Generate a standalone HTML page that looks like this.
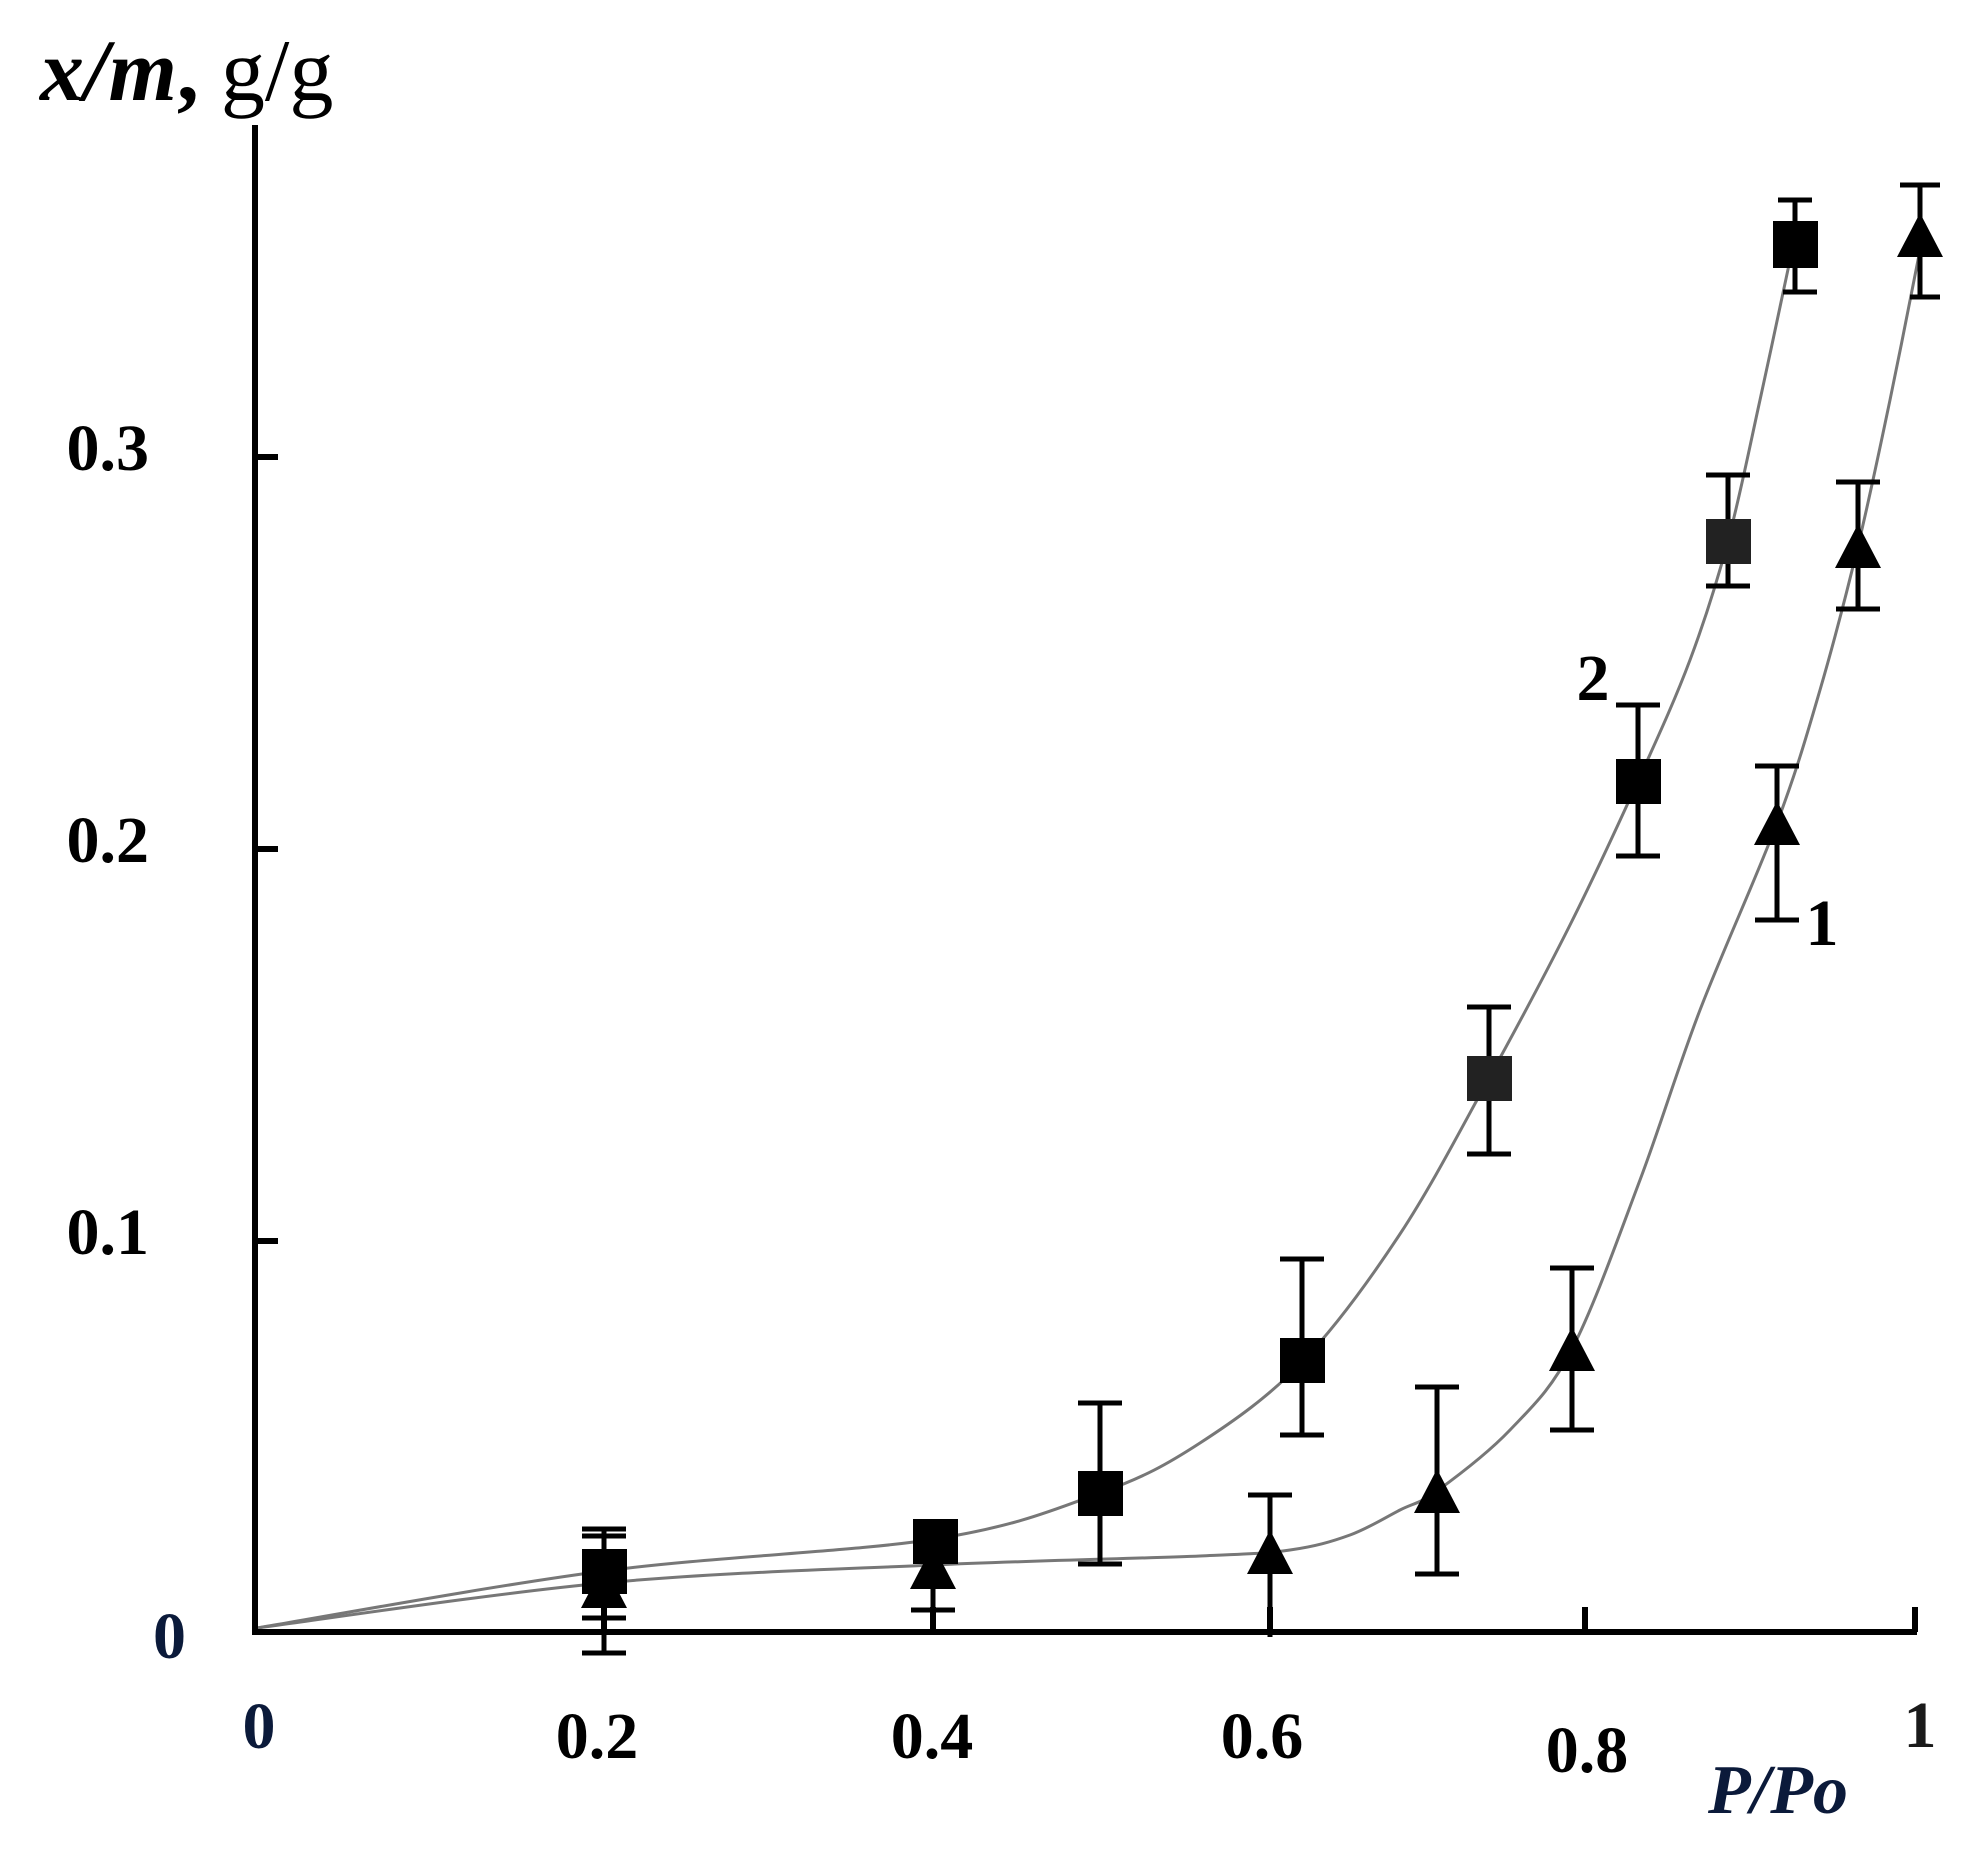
<!DOCTYPE html>
<html><head><meta charset="utf-8"><style>
html,body{margin:0;padding:0;background:#fff;}
svg{display:block;}
text{font-family:"Liberation Serif",serif;font-weight:bold;}
</style></head><body>
<svg width="1976" height="1853" viewBox="0 0 1976 1853" xmlns="http://www.w3.org/2000/svg">
<rect width="1976" height="1853" fill="#fff"/>
<!-- curves -->
<g fill="none" stroke="#777" stroke-width="3" stroke-linejoin="round">
<polyline class="cr" points="257,1628 604,1571 935,1539 1100,1493 1200,1443 1302,1362 1400,1234 1489,1078 1570,925 1638,781 1690,660 1728,541 1760,400 1790,260"/>
<polyline class="cr" points="257,1628 604,1583 933,1565 1200,1556 1290,1550 1350,1535 1400,1510 1437,1491 1510,1430 1572,1349 1640,1180 1700,1010 1777,823 1820,690 1858,546 1890,400 1920,250"/>
</g>
<!-- axes -->
<g stroke="#000" stroke-width="6" fill="none">
<line x1="255" y1="125" x2="255" y2="1635"/>
<line x1="252" y1="1632" x2="1917" y2="1632"/>
<line x1="255" y1="457" x2="278" y2="457"/>
<line x1="255" y1="849" x2="278" y2="849"/>
<line x1="255" y1="1241" x2="278" y2="1241"/>
<line x1="604" y1="1632" x2="604" y2="1607"/>
<line x1="933" y1="1632" x2="933" y2="1607"/>
<line x1="1270" y1="1632" x2="1270" y2="1607"/>
<line x1="1585" y1="1632" x2="1585" y2="1607"/>
<line x1="1915" y1="1632" x2="1915" y2="1607"/>
</g>
<!-- error bars -->
<g stroke="#000" stroke-width="5">
<path d="M604 1529V1618M582 1529H626M582 1618H626"/>
<path d="M935 1526V1555M913 1526H957"/>
<path d="M1100 1403V1564M1078 1403H1122M1078 1564H1122"/>
<path d="M1302 1259V1435M1280 1259H1324M1280 1435H1324"/>
<path d="M1489 1007V1154M1467 1007H1511M1467 1154H1511"/>
<path d="M1638 705V856M1616 705H1660M1616 856H1660"/>
<path d="M1728 475V586M1706 475H1750M1706 586H1750"/>
<path d="M1795 200V292M1778 200H1812M1783 292H1817"/>
<path d="M604 1536V1653M582 1536H626M582 1653H626"/>
<path d="M933 1560V1610M911 1610H955"/>
<path d="M1270 1495V1637M1248 1495H1292"/>
<path d="M1437 1387V1574M1415 1387H1459M1415 1574H1459"/>
<path d="M1572 1268V1430M1550 1268H1594M1550 1430H1594"/>
<path d="M1777 766V920M1755 766H1799M1755 920H1799"/>
<path d="M1858 482V609M1836 482H1880M1836 609H1880"/>
<path d="M1920 185V297M1900 185H1940M1910 297H1940"/>
</g>
<!-- squares -->
<g fill="#000">
<rect x="582" y="1549" width="45" height="45"/>
<rect x="913" y="1519" width="45" height="45"/>
<rect x="1078" y="1471" width="45" height="45"/>
<rect x="1280" y="1338" width="45" height="45"/>
<rect x="1467" y="1056" width="45" height="45" fill="#222"/>
<rect x="1616" y="759" width="45" height="45"/>
<rect x="1706" y="519" width="45" height="45" fill="#222"/>
<rect x="1773" y="221" width="45" height="47"/>
</g>
<!-- triangles -->
<g fill="#000">
<polygon points="604,1564 581,1608 627,1608"/>
<polygon points="933,1545 910,1589 956,1589"/>
<polygon points="1270,1530 1247,1574 1293,1574"/>
<polygon points="1437,1469 1414,1513 1460,1513"/>
<polygon points="1572,1327 1549,1371 1595,1371"/>
<polygon points="1777,801 1754,845 1800,845"/>
<polygon points="1858,524 1835,568 1881,568"/>
<polygon points="1920,213 1897,257 1943,257"/>
</g>
<!-- labels -->
<text x="40" y="100" font-size="88"><tspan font-style="italic">x/m</tspan><tspan>,</tspan><tspan font-weight="normal"> g/g</tspan></text>
<g font-size="66" text-anchor="end">
<text x="149" y="470">0.3</text>
<text x="149" y="862">0.2</text>
<text x="149" y="1254">0.1</text>
<text x="186" y="1658" fill="#0b1a3a">0</text>
</g>
<g font-size="66" text-anchor="middle">
<text x="259" y="1748" fill="#0b1a3a">0</text>
<text x="597" y="1758">0.2</text>
<text x="932" y="1758">0.4</text>
<text x="1262" y="1758">0.6</text>
<text x="1587" y="1772">0.8</text>
<text x="1920" y="1747" fill="#1a1a1a">1</text>
<text x="1593" y="700">2</text>
<text x="1822" y="945">1</text>
</g>
<text x="1708" y="1813" font-size="70" font-style="italic" fill="#0b1a3a">P/Po</text>
</svg>
<script>
document.querySelectorAll('polyline.cr').forEach(function(pl){
  var p=pl.getAttribute('points').trim().split(/\s+/).map(function(s){return s.split(',').map(Number);});
  var d='M'+p[0][0]+' '+p[0][1];
  for(var i=0;i<p.length-1;i++){
    var p0=p[i-1]||p[i],p1=p[i],p2=p[i+1],p3=p[i+2]||p2;
    var c1x=p1[0]+(p2[0]-p0[0])/6,c1y=p1[1]+(p2[1]-p0[1])/6;
    var c2x=p2[0]-(p3[0]-p1[0])/6,c2y=p2[1]-(p3[1]-p1[1])/6;
    d+=' C'+c1x+' '+c1y+' '+c2x+' '+c2y+' '+p2[0]+' '+p2[1];
  }
  var path=document.createElementNS('http://www.w3.org/2000/svg','path');
  path.setAttribute('d',d);
  pl.parentNode.replaceChild(path,pl);
});
</script>
</body></html>
